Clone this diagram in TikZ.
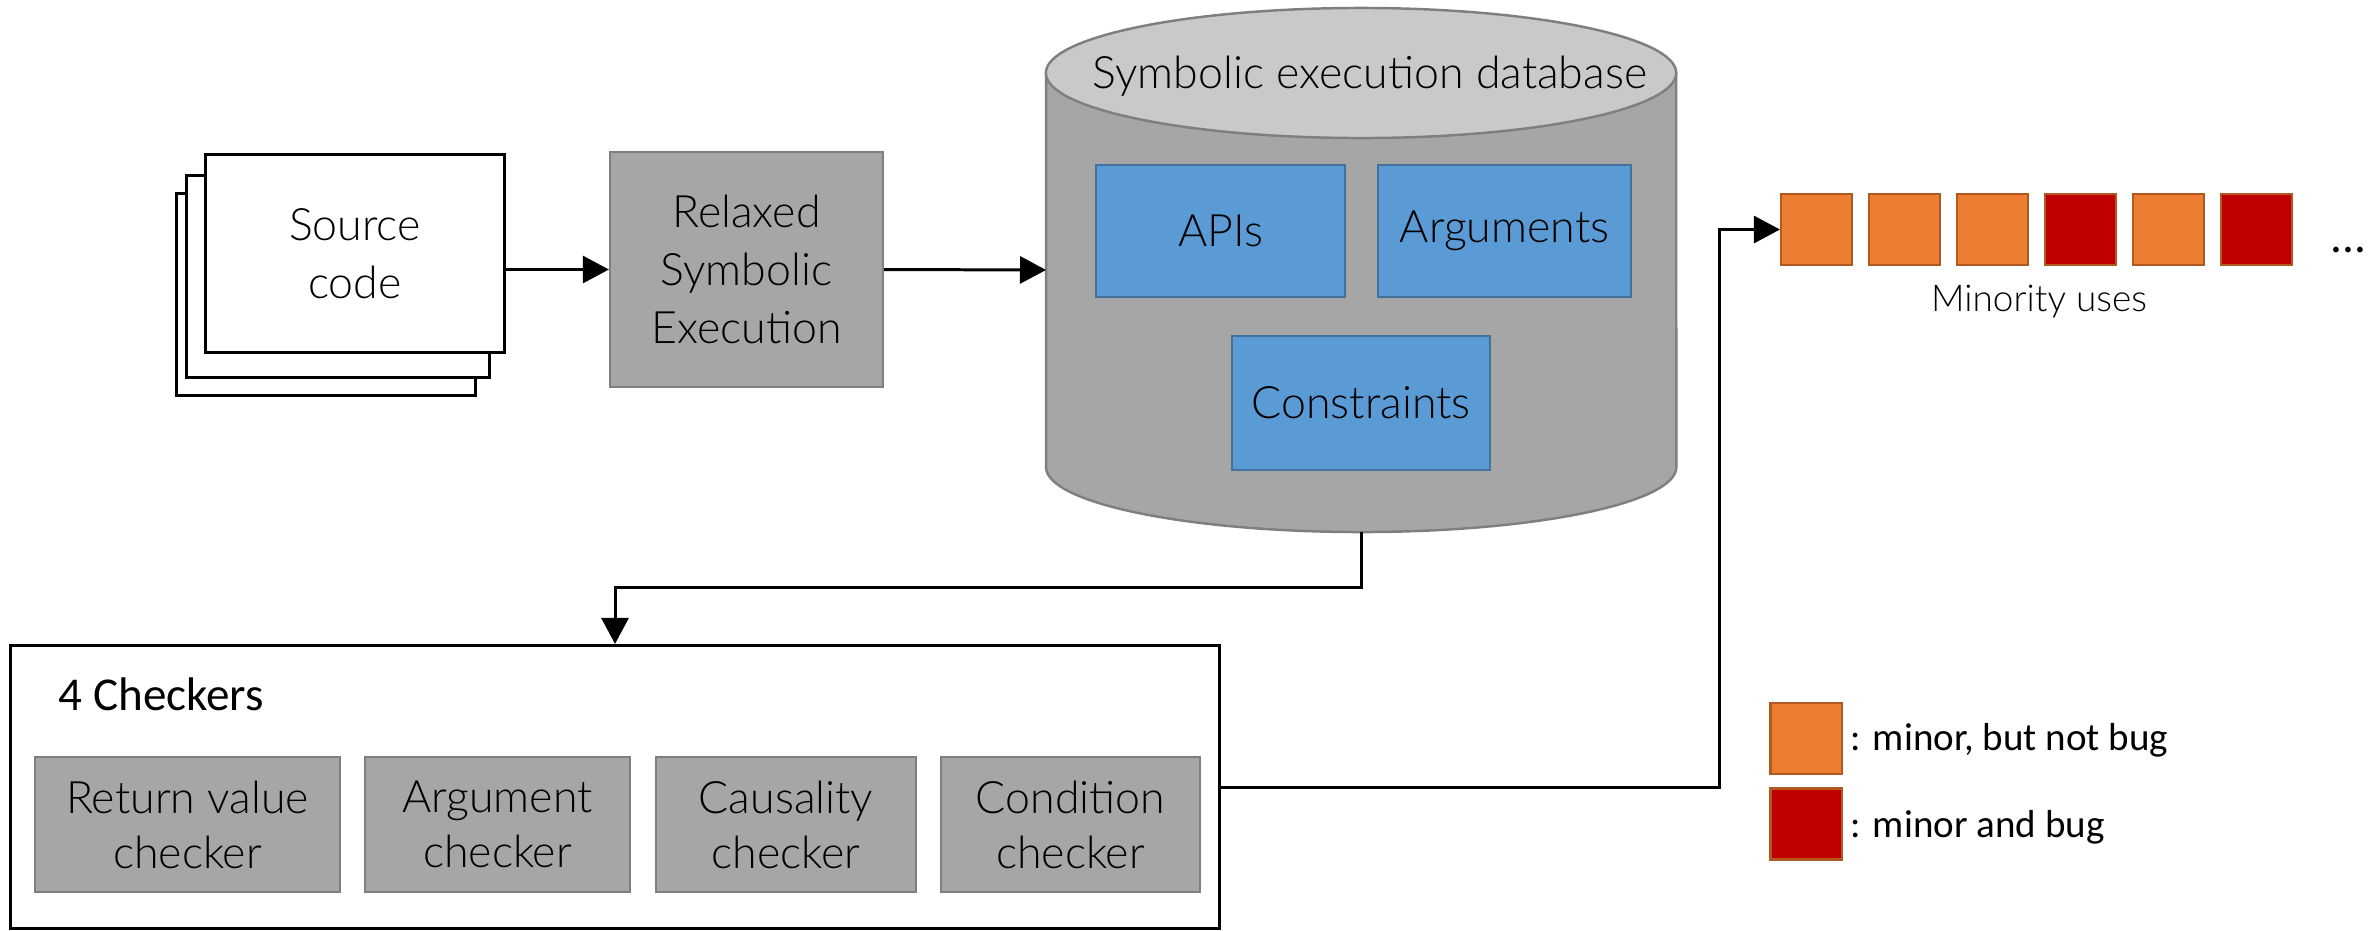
\documentclass[tikz,border=0pt]{standalone}
\usepackage{fontspec}
\setmainfont{Carlito}
\newfontfamily\lightfont{Lato Light}
\usetikzlibrary{arrows.meta,calc}
\definecolor{grayfill}{HTML}{A6A6A6}
\definecolor{graystroke}{HTML}{7F7F7F}
\definecolor{topfill}{HTML}{C9C9C9}
\definecolor{bluefill}{HTML}{5B9BD5}
\definecolor{bluestroke}{HTML}{41719C}
\definecolor{orangefill}{HTML}{ED7D31}
\definecolor{redfill}{HTML}{C00000}
\definecolor{boxedge}{HTML}{AE5A21}
\tikzset{
  bigtext/.style={font=\lightfont\fontsize{12.7}{15.6}\selectfont},
  smalltext/.style={font=\lightfont\fontsize{10.5}{13.3}\selectfont},
  regtext/.style={font=\fontsize{11.1}{13.3}\selectfont},
  paper/.style={draw=black, fill=white, line width=0.85pt, inner sep=0pt},
  graybox/.style={draw=graystroke, fill=grayfill, line width=0.6pt, inner sep=0pt, align=center, bigtext},
  bluebox/.style={draw=bluestroke, fill=bluefill, line width=0.6pt, inner sep=0pt, align=center, bigtext},
  usebox/.style={draw=boxedge, line width=0.6pt, inner sep=0pt, minimum width=0.71cm, minimum height=0.71cm},
  conn/.style={draw=black, line width=0.85pt, -{Triangle[length=0.26cm,width=0.27cm]}},
  plainline/.style={draw=black, line width=0.85pt}
}
\begin{document}
\begin{tikzpicture}[x=0.01cm,y=-0.01cm]
\useasboundingbox (0,0) rectangle (2380,930);
% source code stack
\node[paper, minimum width=2.98cm, minimum height=2.01cm] (back) at (326,294.5) {};
\node[paper, minimum width=3.02cm, minimum height=2.01cm] (middle) at (338,276.5) {};
\node[paper, minimum width=2.98cm, minimum height=1.97cm, align=center, bigtext] (front) at (355,253.5) {Source\\[1pt]code};
% relaxed symbolic execution
\node[graybox, minimum width=2.73cm, minimum height=2.35cm] (relaxed) at (746.5,269.5) {Relaxed\\[1pt]Symbolic\\[1pt]Execution};
% database cylinder
\path[draw=graystroke, fill=grayfill, line width=0.7pt] (1046,73) -- (1046,467) arc[start angle=180, end angle=360, x radius=3.15cm, y radius=0.65cm] -- (1676,73) -- cycle;
\path[draw=graystroke, fill=topfill, line width=0.7pt] (1361,73) ellipse [x radius=3.15cm, y radius=0.65cm];
\node[bigtext, inner sep=0pt] (dbtitle) at (1370,76) {Symbolic execution database};
\coordinate (dbleft) at (1046,270);
\coordinate (dbbottom) at (1361,532);
\node[bluebox, minimum width=2.49cm, minimum height=1.32cm] (apis) at (1220.5,231) {APIs};
\node[bluebox, minimum width=2.53cm, minimum height=1.32cm] (args) at (1504.5,231) {Arguments};
\node[bluebox, minimum width=2.58cm, minimum height=1.34cm] (cons) at (1361,403) {Constraints};
% checkers
\node[draw=black, fill=white, line width=0.85pt, minimum width=12.08cm, minimum height=2.83cm, inner sep=0pt] (checkers) at (615,787) {};
\node[font=\fontsize{13.4}{15.6}\selectfont, anchor=west, inner sep=0pt] (chtitle) at (58,694) {4 Checkers};
\node[graybox, minimum width=3.05cm, minimum height=1.35cm] (c1) at (187.5,824.5) {Return value\\[0pt]checker};
\node[graybox, minimum width=2.65cm, minimum height=1.35cm] (c2) at (497.5,824.5) {Argument\\[0pt]checker};
\node[graybox, minimum width=2.60cm, minimum height=1.35cm] (c3) at (786,824.5) {Causality\\[0pt]checker};
\node[graybox, minimum width=2.59cm, minimum height=1.35cm] (c4) at (1070.5,824.5) {Condition\\[0pt]checker};
% minority uses
\node[usebox, fill=orangefill] (m1) at (1816.5,229.5) {};
\node[usebox, fill=orangefill] (m2) at (1904.5,229.5) {};
\node[usebox, fill=orangefill] (m3) at (1992.5,229.5) {};
\node[usebox, fill=redfill] (m4) at (2080.5,229.5) {};
\node[usebox, fill=orangefill] (m5) at (2168.5,229.5) {};
\node[usebox, fill=redfill] (m6) at (2256.5,229.5) {};
\node[font=\fontsize{13.4}{15.6}\selectfont, anchor=base west, inner sep=0pt] (dots) at (2330,252) {...};
\node[smalltext, inner sep=0pt] (minlabel) at (2039,302) {Minority uses};
% legend
\node[usebox, fill=orangefill] (lg1) at (1806,738.5) {};
\node[usebox, fill=redfill] (lg2) at (1806,824) {};
\node[regtext, anchor=west, inner sep=0pt] (lg1text) at (1850,740) {: minor, but not bug};
\node[regtext, anchor=west, inner sep=0pt] (lg2text) at (1850,827) {: minor and bug};
% connectors
\draw[conn] (front.east |- relaxed.west) -- (relaxed.west);
\draw[conn] (relaxed.east) -- (dbleft);
\coordinate (bend1) at (1361,587);
\draw[conn] (dbbottom) -- (bend1) -| (checkers.north);
\coordinate (turn) at (1719,500);
\draw[conn] (checkers.east) -| (turn) |- (m1.west);
\end{tikzpicture}
\end{document}
